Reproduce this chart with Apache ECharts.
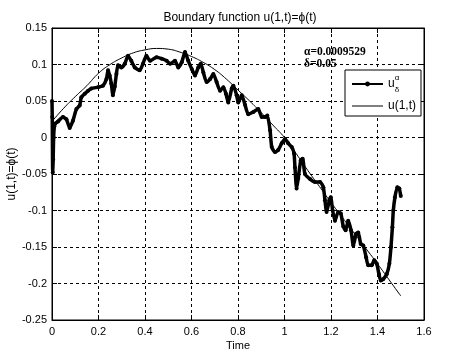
<!DOCTYPE html>
<html lang="en">
<head>
    <meta charset="UTF-8">
    <title>Boundary function</title>
    <script type="text/javascript" src="https://cdn.jsdelivr.net/npm/echarts@6/dist/echarts.min.js"></script>
</head>
<body style="margin:0;background:#fff;">
    <div id="main" style="width: 449px; height:360px;"></div>
    <script type="text/javascript">

// exact boundary u(1,t)
var tExact = [0, 0.05, 0.1, 0.15, 0.2, 0.25, 0.3, 0.35, 0.4, 0.45, 0.5, 0.55, 0.6, 0.65, 0.7, 0.75,
    0.8, 0.85, 0.9, 0.95, 1.0, 1.05, 1.1, 1.15, 1.2, 1.25, 1.3, 1.35, 1.4, 1.45, 1.5];
var uExact = [0.022, 0.040, 0.056, 0.071, 0.088, 0.100, 0.109, 0.116, 0.120, 0.122, 0.121, 0.117, 0.111, 0.103, 0.093, 0.080,
    0.065, 0.050, 0.034, 0.017, 0.0, -0.022, -0.045, -0.067, -0.089, -0.110, -0.131, -0.152, -0.173, -0.195, -0.217];

// regularized solution u_delta^alpha
var tReg = [0.000, 0.001, 0.003, 0.005, 0.007, 0.010, 0.013, 0.026, 0.047, 0.062, 0.076, 0.090, 0.105, 0.119, 0.126,
    0.141, 0.155, 0.169, 0.198, 0.219, 0.234, 0.241, 0.248, 0.255, 0.262, 0.270, 0.277, 0.284, 0.298, 0.313,
    0.327, 0.341, 0.356, 0.377, 0.391, 0.406, 0.422, 0.450, 0.472, 0.493, 0.508, 0.529, 0.543, 0.558, 0.572,
    0.586, 0.601, 0.615, 0.629, 0.640, 0.651, 0.665, 0.680, 0.694, 0.708, 0.723, 0.737, 0.748, 0.758, 0.773,
    0.780, 0.794, 0.801, 0.816, 0.830, 0.844, 0.866, 0.887, 0.902, 0.916, 0.926, 0.938, 0.945, 0.959, 0.973,
    0.988, 1.002, 1.016, 1.031, 1.041, 1.045, 1.052, 1.059, 1.070, 1.078, 1.088, 1.110, 1.131, 1.153, 1.167,
    1.174, 1.181, 1.193, 1.199, 1.207, 1.217, 1.231, 1.242, 1.253, 1.263, 1.274, 1.286, 1.296, 1.308, 1.317,
    1.328, 1.339, 1.351, 1.360, 1.375, 1.386, 1.397, 1.406, 1.414, 1.425, 1.440, 1.451, 1.458, 1.464, 1.468,
    1.475, 1.485, 1.494, 1.500];
var uReg = [0.050, 0.028, -0.048, -0.030, 0.000, 0.015, 0.019, 0.022, 0.028, 0.025, 0.013, 0.023, 0.039, 0.044, 0.055,
    0.060, 0.064, 0.067, 0.069, 0.071, 0.080, 0.092, 0.085, 0.074, 0.058, 0.070, 0.087, 0.099, 0.096, 0.101,
    0.112, 0.105, 0.096, 0.092, 0.101, 0.112, 0.105, 0.110, 0.108, 0.105, 0.101, 0.105, 0.096, 0.103, 0.117,
    0.105, 0.094, 0.085, 0.096, 0.101, 0.089, 0.076, 0.080, 0.087, 0.076, 0.064, 0.069, 0.060, 0.048, 0.067,
    0.071, 0.058, 0.048, 0.058, 0.045, 0.032, 0.035, 0.039, 0.028, 0.028, 0.030, 0.010, -0.013, -0.020, -0.017,
    -0.008, -0.002, -0.008, -0.013, -0.022, -0.041, -0.070, -0.056, -0.031, -0.029, -0.050, -0.057, -0.061, -0.061, -0.068,
    -0.086, -0.102, -0.086, -0.082, -0.100, -0.114, -0.102, -0.104, -0.122, -0.127, -0.114, -0.127, -0.148, -0.132, -0.130,
    -0.146, -0.148, -0.164, -0.175, -0.175, -0.168, -0.173, -0.187, -0.196, -0.194, -0.187, -0.173, -0.150, -0.123, -0.100,
    -0.082, -0.068, -0.070, -0.080];

var xTickLabels = ['0', '0.2', '0.4', '0.6', '0.8', '1', '1.2', '1.4', '1.6'];
var yTickLabels = ['-0.25', '-0.2', '-0.15', '-0.1', '-0.05', '0', '0.05', '0.1', '0.15'];

var titleText = 'Boundary function u(1,t)=\u03d5(t)';
var noteText = '\u03b1=0.0009529\n\u03b4=0.05';
var regName = 'u_delta_alpha';
var exactName = 'u(1,t)';

var xMin = 0, xMax = 1.6, xStep = 0.2;
var yMin = -0.25, yMax = 0.15, yStep = 0.05;

function zip(a, b) {
    var out = [];
    for (var i = 0; i < a.length; i++) out.push([a[i], b[i]]);
    return out;
}

var font = 'Liberation Sans';

var chartDom = document.getElementById('main');
var myChart = echarts.init(chartDom);
var option;

option = {
    animation: false,
    backgroundColor: '#fff',
    title: [
        {
            text: titleText,
            left: 235, top: 7, textAlign: 'center',
            textStyle: { fontFamily: font, fontSize: 12, fontWeight: 'normal', color: '#000' }
        },
        {
            text: noteText,
            left: 299, top: 41,
            textStyle: { fontFamily: 'Liberation Serif', fontSize: 11.5, fontWeight: 'bold', color: '#000', lineHeight: 12 }
        }
    ],
    grid: {
        left: 52, right: 25, top: 28, bottom: 40,
        outerBoundsMode: 'none',
        show: true, borderColor: '#000', borderWidth: 1
    },
    legend: {
        left: 345, top: 70,
        orient: 'vertical',
        backgroundColor: '#fff',
        borderColor: '#000', borderWidth: 1, borderRadius: 0,
        padding: [4, 5, 4, 6],
        itemWidth: 31, itemHeight: 6, itemGap: 6,
        selectedMode: false,
        data: [
            { name: regName },
            { name: exactName, itemStyle: { opacity: 0 }, lineStyle: { width: 1 } }
        ],
        formatter: function (name) {
            if (name === regName) return '{u|u}{a|\u03b1}{d|\u03b4}';
            return '{v|' + name + '}';
        },
        textStyle: {
            fontFamily: font, fontSize: 12, color: '#000',
            rich: {
                u: { fontFamily: font, fontSize: 12, lineHeight: 20, color: '#000' },
                a: { fontFamily: font, fontSize: 8, width: 0, verticalAlign: 'top', color: '#000' },
                d: { fontFamily: font, fontSize: 8, verticalAlign: 'bottom', color: '#000' },
                v: { fontFamily: font, fontSize: 12, lineHeight: 18, color: '#000' }
            }
        }
    },
    xAxis: [
        {
            type: 'value', min: xMin, max: xMax, interval: xStep,
            name: 'Time', nameLocation: 'middle', nameGap: 20,
            nameMoveOverlap: false,
            nameTextStyle: { fontFamily: font, fontSize: 11, color: '#000' },
            axisLine: { onZero: false, lineStyle: { color: '#000' } },
            axisTick: { inside: true, length: 5, lineStyle: { color: '#000' } },
            axisLabel: {
                fontFamily: font, fontSize: 11, color: '#000', margin: 6,
                formatter: function (v) { return xTickLabels[Math.round((v - xMin) / xStep)]; }
            },
            splitLine: { show: true, lineStyle: { color: '#000', type: [3, 3], width: 1 } }
        },
        {
            type: 'value', position: 'top', min: xMin, max: xMax, interval: xStep,
            axisLine: { onZero: false, lineStyle: { color: '#000' } },
            axisTick: { inside: true, length: 5, lineStyle: { color: '#000' } },
            axisLabel: { show: false },
            splitLine: { show: false }
        }
    ],
    yAxis: [
        {
            type: 'value', min: yMin, max: yMax, interval: yStep,
            name: 'u(1,t)=\u03d5(t)', nameLocation: 'middle', nameGap: 34,
            nameMoveOverlap: false,
            nameTextStyle: { fontFamily: font, fontSize: 12, color: '#000' },
            axisLine: { onZero: false, lineStyle: { color: '#000' } },
            axisTick: { inside: true, length: 5, lineStyle: { color: '#000' } },
            axisLabel: {
                fontFamily: font, fontSize: 11, color: '#000', margin: 5,
                formatter: function (v) { return yTickLabels[Math.round((v - yMin) / yStep)]; }
            },
            splitLine: { show: true, lineStyle: { color: '#000', type: [3, 3], width: 1 } }
        },
        {
            type: 'value', position: 'right', min: yMin, max: yMax, interval: yStep,
            axisLine: { show: true, onZero: false, lineStyle: { color: '#000' } },
            axisTick: { show: true, inside: true, length: 5, lineStyle: { color: '#000' } },
            axisLabel: { show: false },
            splitLine: { show: false }
        }
    ],
    series: [
        {
            name: regName,
            type: 'line',
            smooth: 0.2,
            symbol: 'circle',
            symbolSize: 4,
            itemStyle: { color: '#000' },
            lineStyle: { color: '#000', width: 3.5 },
            data: zip(tReg, uReg)
        },
        {
            name: exactName,
            type: 'line',
            smooth: true,
            symbol: 'none',
            itemStyle: { color: '#000' },
            lineStyle: { color: '#000', width: 1 },
            data: zip(tExact, uExact)
        }
    ]
};

option && myChart.setOption(option);
    </script>
</body>
</html>
